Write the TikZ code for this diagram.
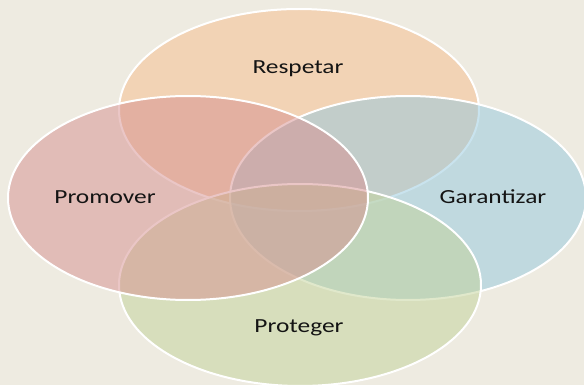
\documentclass[tikz,border=0pt]{standalone}
\usepackage{fontspec}
\setmainfont{Carlito}
\definecolor{bg}{RGB}{238,235,225}
\definecolor{cTop}{RGB}{246,189,139}
\definecolor{cLeft}{RGB}{214,143,143}
\definecolor{cRight}{RGB}{148,201,223}
\definecolor{cBot}{RGB}{194,211,153}
\newcommand{\wide}[1]{\scalebox{1.27}[1]{#1}}
\begin{document}
\begin{tikzpicture}[x=1pt,y=-1pt,
  venn/.style={line width=2pt,draw=white,fill opacity=0.5,draw opacity=1},
  lbl/.style={font=\fontsize{20}{22}\selectfont,text=black!92}]
\useasboundingbox[fill=bg] (0,0) rectangle (584,385);
\path[venn,fill=cTop] (299,110) ellipse [x radius=180,y radius=101];
\path[venn,fill=cRight] (408,198) ellipse [x radius=178,y radius=102];
\path[venn,fill=cBot] (300,285) ellipse [x radius=181,y radius=101];
\path[venn,fill=cLeft] (188,198) ellipse [x radius=180,y radius=102];
\node[lbl] (respetar) at (298,69) {\wide{Respetar}};
\node[lbl] (promover) at (105,197) {\wide{Promover}};
\node[lbl] (garantizar) at (493,197) {\wide{Garantizar}};
\node[lbl] (proteger) at (299,328) {\wide{Proteger}};
\end{tikzpicture}
\end{document}
